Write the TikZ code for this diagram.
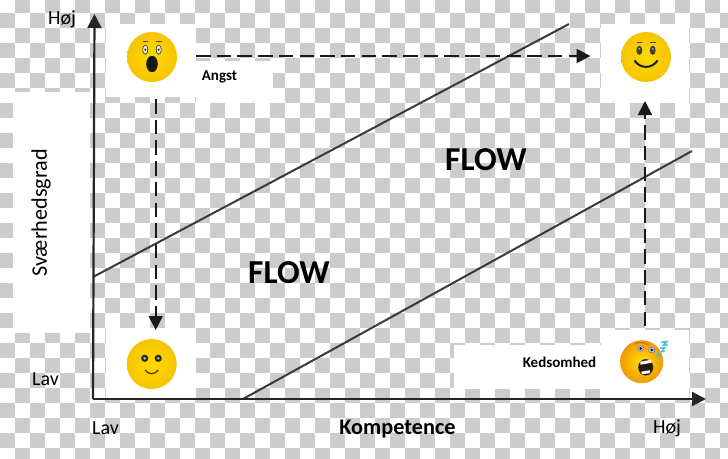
\documentclass[tikz,border=0pt]{standalone}
\usepackage{fontspec}
\setmainfont{Carlito}
\usetikzlibrary{arrows.meta}

\definecolor{tilegrey}{HTML}{CCCCCC}
\definecolor{linegrey}{HTML}{3A3A3A}
\definecolor{faceyellow}{HTML}{FFDA00}
\definecolor{faceedge}{HTML}{F7C400}
\definecolor{sleepyellow}{HTML}{FFE000}
\definecolor{sleepedge}{HTML}{F09A00}
\definecolor{snorecyan}{HTML}{4FC0E0}

\tikzset{
	panel/.style = {fill=white},
	axisline/.style = {line width=2.2pt, black!85, -{Stealth[length=14pt, width=14pt, inset=0pt]}},
	zoneline/.style = {line width=2pt, linegrey},
	dasharrow/.style = {line width=2pt, black!90, dash pattern=on 14.5pt off 6.2pt, -{Stealth[length=14pt, width=14pt, inset=0pt]}},
	facenode/.style = {circle, minimum size=50pt, inner sep=0pt, inner color=faceyellow, outer color=faceedge},
	flowlabel/.style = {font=\bfseries\fontsize{33.5}{33.5}\selectfont},
	scalelabel/.style = {font=\fontsize{20}{20}\selectfont}
}

\begin{document}
\begin{tikzpicture}[x=1pt, y=-1pt]
		\useasboundingbox (0,0) rectangle (728,458);
		\clip (0,0) rectangle (728,458);
		\fill [white] (0,0) rectangle (728,458);
		
		% tiles
		\foreach \i in {0,...,48} {
			\foreach \j in {0,...,31} {
				\pgfmathtruncatemacro{\k}{\i + \j}
				\ifodd\k
					\fill [tilegrey] ({15*\i},{15*\j - 1.7}) rectangle ++(15,15);
				\fi
			}
		}
		
		% white patches
		\fill [panel] (13.3,91.7) rectangle (90,333);
		\fill [panel] (106,24) rectangle (196,97);
		\fill [panel] (196,60.5) rectangle (273,103);
		\fill [panel] (601,24) rectangle (689,103);
		\fill [panel] (106,328) rectangle (196,398);
		\fill [panel] (601,330) rectangle (689,398);
		\fill [panel] (454,345) rectangle (601,389);
		
		\coordinate (origin) at (93,399);
		\coordinate (ytop) at (94.5,14);
		\coordinate (xend) at (706,399);
		\coordinate (upperstart) at (93,277);
		\coordinate (upperend) at (569,24);
		\coordinate (lowerstart) at (243,399);
		\coordinate (lowerend) at (692,151);
		
		\draw [zoneline] (upperstart) -- (upperend);
		\draw [zoneline] (lowerstart) -- (lowerend);
		\draw [axisline] (origin) -- (ytop);
		\draw [axisline] (origin) -- (xend);
		
		% faces
		\node [facenode] (angstface) at (152,57) {};
		\node [facenode] (happyface) at (646,57) {};
		\node [facenode] (calmface) at (151.7,364) {};
		\node [facenode, minimum size=43pt, inner color=sleepyellow, outer color=sleepedge] (sleepface) at (641.7,361.7) {};
		
		\begin{scope}[shift={(angstface.center)}]
			\fill [white!85!faceyellow, draw=black!70, line width=0.8pt] (-6.7,-7.3) ellipse (2.6 and 4.6);
			\fill [white!85!faceyellow, draw=black!70, line width=0.8pt] (6.7,-7.3) ellipse (2.6 and 4.6);
			\fill [black!75] (-6.7,-7.3) circle (1.3);
			\fill [black!75] (6.7,-7.3) circle (1.3);
			\draw [black!70, line width=1pt] (-9.5,-15.5) -- (-4,-15.5);
			\draw [black!70, line width=1pt] (4,-15.5) -- (9.5,-15.5);
			\fill [black!90] (0,7) ellipse (5.8 and 8.2);
		\end{scope}
		
		\begin{scope}[shift={(happyface.center)}]
			\fill [black!75] (-6.7,-6.7) ellipse (3 and 4.6);
			\fill [black!75] (6.7,-6.7) ellipse (3 and 4.6);
			\fill [white!70!black] (-6.7,-8.2) circle (1);
			\fill [white!70!black] (6.7,-8.2) circle (1);
			\draw [black!70, line width=1pt] (-9.5,-15) -- (-4,-15);
			\draw [black!70, line width=1pt] (4,-15) -- (9.5,-15);
			\draw [black!90, line width=2pt] (-11.5,3.5) .. controls (-6,12) and (6,12) .. (11.5,3.5);
		\end{scope}
		
		\begin{scope}[shift={(calmface.center)}]
			\fill [black!85] (-7,-5.7) circle (3.6);
			\fill [black!85] (6.5,-5.7) circle (3.6);
			\fill [black!35] (-7,-5.7) circle (1.6);
			\fill [black!35] (6.5,-5.7) circle (1.6);
			\draw [black!60!orange, line width=1.3pt] (-6.5,6) .. controls (-3,11) and (3,11) .. (6.5,6);
		\end{scope}
		
		\begin{scope}[shift={(sleepface.center)}]
			\draw [sleepedge!80!black, line width=1.2pt] (-7,-17.5) .. controls (-3,-20) and (3,-20) .. (7,-16.5);
			\fill [white!75!blue, draw=black!50, line width=0.6pt] (-1,-13.3) ellipse (3.2 and 2.8);
			\fill [white!75!blue, draw=black!50, line width=0.6pt] (10,-11.7) ellipse (3.2 and 2.8);
			\fill [black!70!blue] (-1,-13.3) circle (1.4);
			\fill [black!70!blue] (10,-11.7) circle (1.4);
			\fill [black!80!brown] (4,5.6) ellipse (7.5 and 8.2);
			\fill [white] (-1.5,0) -- (9.5,-2) -- (10,1) -- (-1.2,3) -- cycle;
			\fill [white] (-0.5,10) -- (8.5,8.5) -- (8,11.5) -- (0.5,12.5) -- cycle;
			\fill [snorecyan!60!faceedge] (18,3) circle (1.2);
			\fill [snorecyan!60!faceedge] (16.5,-2) circle (1);
			\draw [snorecyan, line width=1.6pt] (19.5,-19.5) -- (25,-20) -- (21.5,-16.5) -- (26,-17);
			\draw [snorecyan, line width=1.4pt] (18.5,-13.5) -- (23,-14) -- (19.5,-10) -- (23.5,-10.5);
			\draw [snorecyan, line width=1.1pt] (14.5,-7.5) -- (18,-8) -- (15.5,-5) -- (18.5,-5.5);
		\end{scope}
		
		% moves between the corners
		\coordinate (angstout) at (196,56);
		\coordinate (happyin) at (590.5,56);
		\coordinate (downout) at (155.7,99);
		\coordinate (calmin) at (155.7,330);
		\coordinate (upout) at (645,326);
		\coordinate (happybelow) at (645,101);
		
		\draw [dasharrow] (angstout) -- (happyin);
		\draw [dasharrow] (downout) -- (calmin);
		\draw [dasharrow] (upout) -- (happybelow);
		
		% labels
		\node [scalelabel] (yhigh) at (62,19) {Høj};
		\node [scalelabel] (ylow) at (45.5,379) {Lav};
		\node [scalelabel] (xlow) at (105.5,428) {Lav};
		\node [scalelabel] (xhigh) at (667,428) {Høj};
		\node [rotate=90, font=\fontsize{22.2}{22.2}\selectfont] (ylabel) at (41,213) {Sværhedsgrad};
		\node [font=\bfseries\fontsize{22.3}{22.3}\selectfont] (xlabel) at (397.5,429) {Kompetence};
		\node [flowlabel] (flowlow) at (289,273) {FLOW};
		\node [flowlabel] (flowhigh) at (486,160) {FLOW};
		\node [font=\bfseries\fontsize{15}{15}\selectfont] (angstlabel) at (219.5,77) {Angst};
		\node [font=\bfseries\fontsize{15}{15}\selectfont] (kedlabel) at (559.5,362) {Kedsomhed};
	\end{tikzpicture}
\end{document}
